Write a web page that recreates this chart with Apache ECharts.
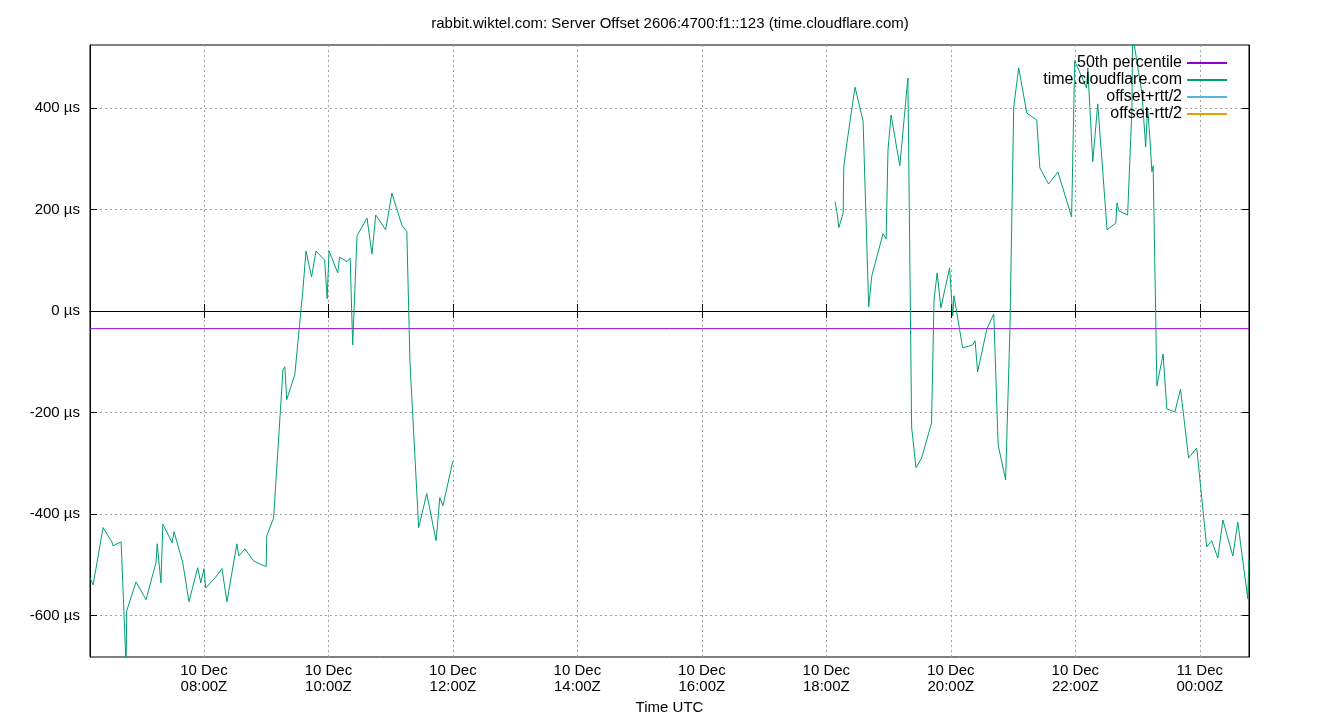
<!DOCTYPE html>
<html>
<head>
    <meta charset="utf-8">
    <title>Server Offset</title>
    <script src="https://cdn.jsdelivr.net/npm/echarts@6/dist/echarts.min.js"></script>
    <style>
        body { margin: 0; background: #fff; }
    </style>
</head>
<body>
    <div id="main" style="width: 1340px;height:720px;"></div>
    <script type="text/javascript">
        // hours since 10 Dec 00:00Z, null marks the gap with no data
        var hours = [6.17, 6.22, 6.38, 6.52, 6.54, 6.67, 6.75, 6.76, 6.91, 7.07, 7.23, 7.25, 7.31, 7.34, 7.49, 7.52, 7.66, 7.76, 7.90, 7.95,
            8.00, 8.03, 8.18, 8.29, 8.37, 8.53, 8.56, 8.66, 8.80, 9.00, 9.01, 9.12, 9.27, 9.30, 9.33, 9.46, 9.59, 9.64, 9.73, 9.80,
            9.94, 9.98, 10.01, 10.15, 10.18, 10.30, 10.35, 10.39, 10.46, 10.62, 10.70, 10.76, 10.92, 11.02, 11.18, 11.26, 11.31, 11.45, 11.58, 11.73,
            11.79, 11.84, 12.00, 15.00,
            18.14, 18.17, 18.20, 18.27, 18.28, 18.33, 18.46, 18.59, 18.68, 18.73, 18.91, 18.96, 18.99, 19.04, 19.18, 19.31, 19.37, 19.44, 19.53, 19.69,
            19.73, 19.78, 19.84, 19.98, 20.03, 20.05, 20.19, 20.35, 20.39, 20.43, 20.58, 20.69, 20.76, 20.88, 20.95, 21.01, 21.09, 21.22, 21.38, 21.43,
            21.57, 21.72, 21.94, 21.99, 22.18, 22.20, 22.28, 22.36, 22.51, 22.65, 22.67, 22.70, 22.84, 22.91, 22.92, 23.07, 23.13, 23.16, 23.20, 23.23,
            23.25, 23.31, 23.41, 23.47, 23.60, 23.69, 23.82, 23.95, 24.11, 24.19, 24.29, 24.37, 24.53, 24.61, 24.77, 24.79];
        // offset in microseconds
        var offsets = [-526, -540, -427, -455, -463, -455, -700, -591, -534, -569, -496, -459, -536, -420, -457, -435, -496, -573, -506, -536,
            -508, -546, -526, -508, -573, -459, -483, -469, -493, -504, -443, -408, -116, -110, -175, -126, 41, 118, 67, 118,
            100, 24, 118, 75, 106, 97, 104, -67, 148, 183, 112, 189, 160, 232, 169, 156, -100, -427, -360, -453,
            -368, -384, -296, null,
            215, 195, 164, 193, 284, 331, 441, 374, 8, 69, 152, 142, 317, 386, 286, 459, -229, -309, -290, -221,
            22, 75, 6, 85, -10, 30, -73, -67, -59, -120, -35, -6, -264, -333, -32, 402, 479, 390, 376, 282,
            250, 274, 185, 493, 439, 479, 294, 408, 160, 173, 213, 197, 189, 400, 545, 429, 323, 400, 337, 274,
            286, -148, -85, -193, -199, -154, -290, -270, -465, -453, -487, -412, -483, -416, -567, -489];
        var percentile50 = -35;
        var xTicks = [8, 10, 12, 14, 16, 18, 20, 22, 24];
        var yTicks = [-600, -400, -200, 0, 200, 400];
        var xMin = 6.17, xMax = 24.79, yMin = -682, yMax = 524;

        function hourLabel(v) {
            var day = v >= 24 ? '11 Dec' : '10 Dec';
            var h = Math.round(v) % 24;
            return day + '\n' + (h < 10 ? '0' : '') + h + ':00Z';
        }

        var offsetData = hours.map(function (h, i) {
            return [h, offsets[i] === null ? '-' : offsets[i]];
        });

        var myChart = echarts.init(document.getElementById('main'));
        var font = 'Liberation Sans';
        var dotted = { show: true, lineStyle: { color: '#a0a0a0', type: [2, 3], width: 1 } };
        var option = {
            animation: false,
            title: {
                text: 'rabbit.wiktel.com: Server Offset 2606:4700:f1::123 (time.cloudflare.com)',
                left: 'center', top: 11,
                textStyle: { fontFamily: font, fontSize: 15, fontWeight: 'normal', color: '#000' }
            },
            legend: {
                orient: 'vertical', align: 'right',
                right: 108, top: 50,
                itemWidth: 40, itemHeight: 2, itemGap: 1,
                icon: 'rect',
                textStyle: { fontFamily: font, fontSize: 16, color: '#000', lineHeight: 14, padding: [0, 0, 0, 0] },
                data: ['50th percentile', 'time.cloudflare.com', 'offset+rtt/2', 'offset-rtt/2']
            },
            grid: { left: 90, right: 91, top: 45, bottom: 63, show: true, borderColor: '#000', borderWidth: 1 },
            xAxis: [{
                type: 'value', min: xMin, max: xMax,
                name: 'Time UTC', nameLocation: 'middle', nameGap: 42,
                nameTextStyle: { fontFamily: font, fontSize: 15, color: '#000' },
                axisLine: { show: true, lineStyle: { color: '#000' } },
                axisTick: { inside: true, length: 7, customValues: xTicks, lineStyle: { color: '#000' } },
                axisLabel: { customValues: xTicks, formatter: hourLabel, fontFamily: font, fontSize: 15, color: '#000', lineHeight: 16, margin: 6 },
                splitLine: dotted
            }, {
                type: 'value', min: xMin, max: xMax, position: 'top',
                axisLine: { show: true, lineStyle: { color: '#000' } },
                axisTick: { inside: true, length: 7, customValues: xTicks, lineStyle: { color: '#000' } },
                axisLabel: { show: false }, splitLine: { show: false }
            }],
            yAxis: [{
                type: 'value', min: yMin, max: yMax,
                axisLine: { show: true, lineStyle: { color: '#000' } },
                axisTick: { inside: true, length: 7, customValues: yTicks, lineStyle: { color: '#000' } },
                axisLabel: { customValues: yTicks, formatter: '{value} µs', fontFamily: font, fontSize: 15, color: '#000', margin: 10 },
                splitLine: dotted
            }, {
                type: 'value', min: yMin, max: yMax, position: 'right',
                axisLine: { show: true, lineStyle: { color: '#000' } },
                axisTick: { inside: true, length: 7, customValues: yTicks, lineStyle: { color: '#000' } },
                axisLabel: { show: false }, splitLine: { show: false }
            }],
            series: [{
                name: '50th percentile', type: 'line', symbol: 'none',
                color: '#9400d3', lineStyle: { width: 1 },
                data: [[xMin, percentile50], [xMax, percentile50]]
            }, {
                name: 'time.cloudflare.com', type: 'line', symbol: 'none',
                color: '#009e73', lineStyle: { width: 1 }, clip: true,
                data: offsetData
            }, {
                name: 'offset+rtt/2', type: 'line', symbol: 'none',
                color: '#56b4e9', lineStyle: { width: 1 }, data: []
            }, {
                name: 'offset-rtt/2', type: 'line', symbol: 'none',
                color: '#e69f00', lineStyle: { width: 1 }, data: []
            }]
        };
        myChart.setOption(option);
    </script>
</body>
</html>
